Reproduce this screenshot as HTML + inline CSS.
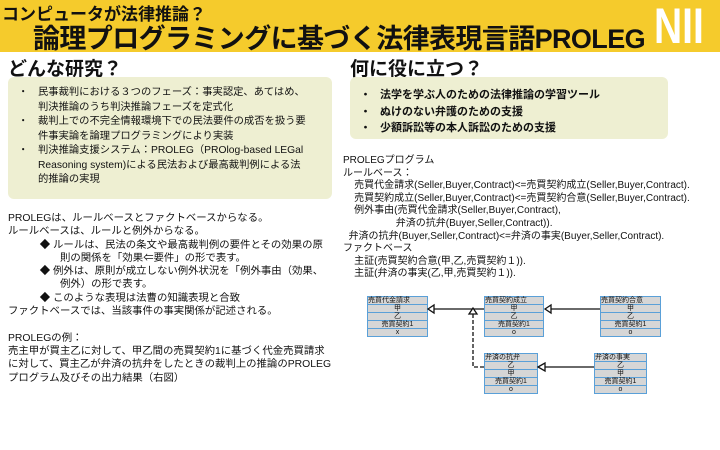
<!DOCTYPE html><html><head><meta charset="utf-8"><style>
body{margin:0;width:720px;height:450px;background:#fff;position:relative;overflow:hidden;font-family:"Liberation Sans","Noto Sans CJK JP",sans-serif;color:#111}
.a{position:absolute;white-space:nowrap}
.hd{position:absolute;left:0;top:0;width:720px;height:52px;background:#f5cb2c}
.box{position:absolute;background:#eeefd2;border-radius:6px}
.t{font-size:11px;line-height:14.5px}
.u{position:absolute;border:1px solid #5aa0d8;background:#d6d6d6;font-size:7px;text-align:center}
.u div{height:7px;line-height:7px;border-bottom:1px solid #5aa0d8}
.u div:last-child{border-bottom:none}
</style></head><body>
<div class="hd"></div>
<div class="a" style="left:2px;top:0;font-size:17px;font-weight:bold">コンピュータが法律推論？</div>
<div class="a" style="left:33px;top:17px;font-size:27px;font-weight:bold;letter-spacing:-0.6px">論理プログラミングに基づく法律表現言語PROLEG</div>
<div class="a" style="left:654px;top:0px;font-size:50px;font-weight:bold;color:#fff;line-height:52px;transform:scaleX(0.78);transform-origin:left">NII</div>
<div class="a" style="left:8px;top:54px;font-size:19px;font-weight:bold">どんな研究？</div>
<div class="a" style="left:350px;top:54px;font-size:19px;font-weight:bold">何に役に立つ？</div>
<div class="box" style="left:8px;top:77px;width:324px;height:122px"></div>
<div class="box" style="left:350px;top:77px;width:318px;height:62px"></div>
<div class="a t" style="left:18px;top:86px;font-size:10.3px">・<br><br>・<br><br>・</div>
<div class="a t" style="left:38px;top:86px;font-size:10.3px">民事裁判における３つのフェーズ：事実認定、あてはめ、<br>判決推論のうち判決推論フェーズを定式化<br>裁判上での不完全情報環境下での民法要件の成否を扱う要<br>件事実論を論理プログラミングにより実装<br>判決推論支援システム：PROLEG（PROlog-based LEGal<br>Reasoning system)による民法および最高裁判例による法<br>的推論の実現</div>
<div class="a t" style="left:360px;top:87px;font-weight:bold;line-height:16.5px">・<br>・<br>・</div>
<div class="a t" style="left:380px;top:87px;font-weight:bold;line-height:16.5px">法学を学ぶ人のための法律推論の学習ツール<br>ぬけのない弁護のための支援<br>少額訴訟等の本人訴訟のための支援</div>
<div class="a t" style="left:8px;top:212px;font-size:10.4px;line-height:13.3px">PROLEGは、ルールベースとファクトベースからなる。<br>ルールベースは、ルールと例外からなる。<br>&nbsp;&nbsp;&nbsp;&nbsp;&nbsp;&nbsp;&nbsp;&nbsp;&nbsp;&nbsp;&nbsp;◆ ルールは、民法の条文や最高裁判例の要件とその効果の原<br>&nbsp;&nbsp;&nbsp;&nbsp;&nbsp;&nbsp;&nbsp;&nbsp;&nbsp;&nbsp;&nbsp;&nbsp;&nbsp;&nbsp;&nbsp;&nbsp;&nbsp;&nbsp;則の関係を「効果⇐要件」の形で表す。<br>&nbsp;&nbsp;&nbsp;&nbsp;&nbsp;&nbsp;&nbsp;&nbsp;&nbsp;&nbsp;&nbsp;◆ 例外は、原則が成立しない例外状況を「例外事由（効果、<br>&nbsp;&nbsp;&nbsp;&nbsp;&nbsp;&nbsp;&nbsp;&nbsp;&nbsp;&nbsp;&nbsp;&nbsp;&nbsp;&nbsp;&nbsp;&nbsp;&nbsp;&nbsp;例外）の形で表す。<br>&nbsp;&nbsp;&nbsp;&nbsp;&nbsp;&nbsp;&nbsp;&nbsp;&nbsp;&nbsp;&nbsp;◆ このような表現は法曹の知識表現と合致<br>ファクトベースでは、当該事件の事実関係が記述される。<br><br>PROLEGの例：<br>売主甲が買主乙に対して、甲乙間の売買契約1に基づく代金売買請求<br>に対して、買主乙が弁済の抗弁をしたときの裁判上の推論のPROLEG<br>プログラム及びその出力結果（右図）</div>
<div class="a t" style="left:343px;top:155px;line-height:12.6px;font-size:10px">PROLEGプログラム<br>ルールベース：<br>&nbsp;&nbsp;&nbsp;&nbsp;売買代金請求(Seller,Buyer,Contract)&lt;=売買契約成立(Seller,Buyer,Contract).<br>&nbsp;&nbsp;&nbsp;&nbsp;売買契約成立(Seller,Buyer,Contract)&lt;=売買契約合意(Seller,Buyer,Contract).<br>&nbsp;&nbsp;&nbsp;&nbsp;例外事由(売買代金請求(Seller,Buyer,Contract),<br>&nbsp;&nbsp;&nbsp;&nbsp;&nbsp;&nbsp;&nbsp;&nbsp;&nbsp;&nbsp;&nbsp;&nbsp;&nbsp;&nbsp;&nbsp;&nbsp;&nbsp;&nbsp;&nbsp;弁済の抗弁(Buyer,Seller,Contract)).<br>&nbsp;&nbsp;弁済の抗弁(Buyer,Seller,Contract)&lt;=弁済の事実(Buyer,Seller,Contract).<br>ファクトベース<br>&nbsp;&nbsp;&nbsp;&nbsp;主証(売買契約合意(甲,乙,売買契約１)).<br>&nbsp;&nbsp;&nbsp;&nbsp;主証(弁済の事実(乙,甲,売買契約１)).</div>
<div class="u" style="left:367px;top:296px;width:59px"><div style="text-align:left">売買代金請求</div><div>甲</div><div>乙</div><div>売買契約1</div><div>x</div></div>
<div class="u" style="left:484px;top:296px;width:58px"><div style="text-align:left">売買契約成立</div><div>甲</div><div>乙</div><div>売買契約1</div><div>o</div></div>
<div class="u" style="left:600px;top:296px;width:59px"><div style="text-align:left">売買契約合意</div><div>甲</div><div>乙</div><div>売買契約1</div><div>o</div></div>
<div class="u" style="left:484px;top:353px;width:52px"><div style="text-align:left">弁済の抗弁</div><div>乙</div><div>甲</div><div>売買契約1</div><div>o</div></div>
<div class="u" style="left:594px;top:353px;width:51px"><div style="text-align:left">弁済の事実</div><div>乙</div><div>甲</div><div>売買契約1</div><div>o</div></div>
<svg class="a" style="left:0;top:0" width="720" height="450">
<g stroke="#111" stroke-width="1.3" fill="#fff">
<line x1="434" y1="309" x2="484" y2="309"/><polygon points="428,309 434,305 434,313"/>
<line x1="551" y1="309" x2="600" y2="309"/><polygon points="545,309 551,305 551,313"/>
<line x1="545" y1="367" x2="594" y2="367"/><polygon points="538,367 545,363 545,371"/>
<polyline points="484,367 473,367 473,314" fill="none" stroke-dasharray="4,2"/><polygon points="473,308 469,314 477,314"/>
</g></svg>
</body></html>
